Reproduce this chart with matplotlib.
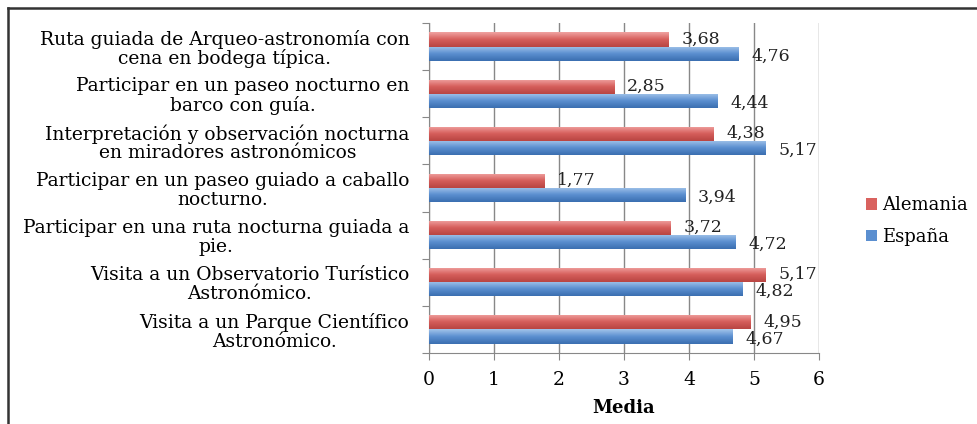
import matplotlib
matplotlib.use("Agg")
import matplotlib.pyplot as plt
import numpy as np
from matplotlib.lines import Line2D
from matplotlib.colors import LinearSegmentedColormap

categories = [
    "Ruta guiada de Arqueo-astronomía con\ncena en bodega típica.",
    "Participar en un paseo nocturno en\nbarco con guía.",
    "Interpretación y observación nocturna\nen miradores astronómicos",
    "Participar en un paseo guiado a caballo\nnocturno.",
    "Participar en una ruta nocturna guiada a\npie.",
    "Visita a un Observatorio Turístico\nAstronómico.",
    "Visita a un Parque Científico\nAstronómico.",
]
alemania = [3.68, 2.85, 4.38, 1.77, 3.72, 5.17, 4.95]
espana = [4.76, 4.44, 5.17, 3.94, 4.72, 4.82, 4.67]
series_names = ["Alemania", "España"]
x_ticks = [0, 1, 2, 3, 4, 5, 6]
x_label = "Media"

plt.rcParams["font.family"] = ["DejaVu Serif"]

fig = plt.figure(figsize=(9.78, 4.24), dpi=100)
ax = fig.add_axes([429 / 978, 71 / 424, 390 / 978, 330 / 424])

n = len(categories)
y = np.arange(n)
h = 0.30

red_cmap = LinearSegmentedColormap.from_list("r", ["#b84542", "#d65e5b", "#f0a3a1"])
blue_cmap = LinearSegmentedColormap.from_list("b", ["#3a6eb0", "#5b8fd0", "#a3c4ea"])

bars_a = ax.barh(y - h / 2, alemania, height=h, color="#d9625f", zorder=3)
bars_e = ax.barh(y + h / 2, espana, height=h, color="#5b8fd0", zorder=3)

# vertical gradient fill clipped to each bar
grad = np.linspace(0, 1, 64).reshape(-1, 1)
for bars, cmap in ((bars_a, red_cmap), (bars_e, blue_cmap)):
    for b in bars:
        x0, y0 = b.get_x(), b.get_y()
        w, hh = b.get_width(), b.get_height()
        im = ax.imshow(grad[::-1], extent=[x0, x0 + w, y0 + hh, y0], aspect="auto",
                       cmap=cmap, zorder=4, interpolation="bicubic")
        im.set_clip_path(b)

def fmt(v):
    return f"{v:.2f}".replace(".", ",")

for b, v in zip(bars_a, alemania):
    ax.text(v + 0.2, b.get_y() + b.get_height() / 2 - 0.01, fmt(v), va="center",
            ha="left", fontsize=12.5, color="#222222", zorder=5)
for b, v in zip(bars_e, espana):
    ax.text(v + 0.2, b.get_y() + b.get_height() / 2 + 0.05, fmt(v), va="center",
            ha="left", fontsize=12.5, color="#222222", zorder=5)

ax.set_xlim(0, 6)
ax.set_ylim(n - 0.5, -0.5)
ax.set_xticks(x_ticks)
ax.set_xticklabels([str(t) for t in x_ticks], fontsize=13.5)
ax.set_xlabel(x_label, fontsize=13, fontweight="bold", labelpad=7)

ax.set_yticks(np.arange(n + 1) - 0.5)
ax.set_yticklabels([])
ax.set_yticks(y, minor=True)
ax.set_yticklabels(categories, minor=True, fontsize=13.5, multialignment="center",
                   linespacing=1.06)
ax.tick_params(axis="y", which="minor", length=0, pad=14)
ax.tick_params(axis="y", which="major", length=5, color="#888888", direction="out")
ax.tick_params(axis="x", length=5, color="#888888", direction="out", pad=8)

ax.grid(axis="x", color="#888888", linewidth=1, zorder=0)
ax.set_axisbelow(True)
for s in ("top", "right"):
    ax.spines[s].set_visible(False)
for s in ("left", "bottom"):
    ax.spines[s].set_color("#888888")

leg = fig.legend([bars_a, bars_e], series_names, loc="center left",
                 bbox_to_anchor=(850 / 978, 1 - 221 / 424), frameon=False,
                 fontsize=13, handlelength=0.6, handleheight=0.6, handletextpad=0.3,
                 labelspacing=0.75)

# outer frame on top and left
fig.add_artist(Line2D([8 / 978, 1], [1 - 8 / 424, 1 - 8 / 424], color="#333333",
                      linewidth=1.8, transform=fig.transFigure))
fig.add_artist(Line2D([8 / 978, 8 / 978], [0, 1 - 8 / 424], color="#333333",
                      linewidth=1.8, transform=fig.transFigure))

fig.savefig("out.png", dpi=100)
